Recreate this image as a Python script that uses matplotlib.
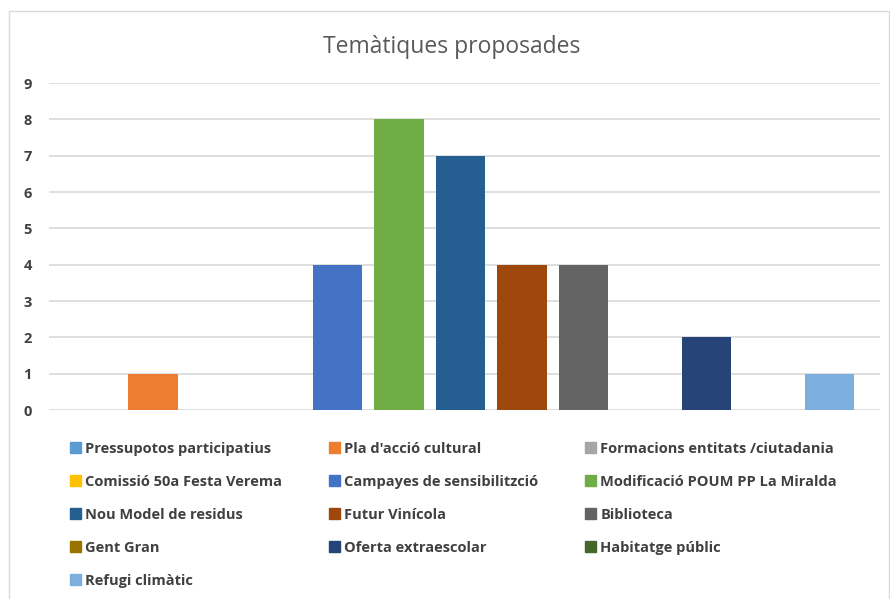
import matplotlib.pyplot as plt
from matplotlib.patches import Patch, Rectangle

plt.rcParams['font.family'] = ['Open Sans', 'DejaVu Sans']

series = ['Pressupotos participatius', "Pla d'acció cultural",
          'Formacions entitats /ciutadania', 'Comissió 50a Festa Verema',
          'Campayes de sensibilitzció', 'Modificació POUM PP La Miralda',
          'Nou Model de residus', 'Futur Vinícola', 'Biblioteca',
          'Gent Gran', 'Oferta extraescolar', 'Habitatge públic',
          'Refugi climàtic']
values = [0, 1, 0, 0, 4, 8, 7, 4, 4, 0, 2, 0, 1]
colors = ['#5B9BD5', '#ED7D31', '#A5A5A5', '#FFC000', '#4472C4', '#70AD47',
          '#255E91', '#9E480E', '#636363', '#997300', '#264478', '#43682B',
          '#7CAFDD']

fig = plt.figure(figsize=(8.9, 5.99), dpi=100)
ax = fig.add_axes([0.0546, 0.3155, 0.934, 0.5459])

for i, (v, c) in enumerate(zip(values, colors)):
    ax.bar(i, v, width=0.81, color=c, zorder=3)

ax.set_xlim(-0.7, 12.82)
ax.set_ylim(0, 9)
ax.set_yticks(range(10))
ax.set_xticks([])
ax.grid(axis='y', color='#D9D9D9', linewidth=1.2, zorder=0)
for s in ax.spines.values():
    s.set_visible(False)
ax.tick_params(axis='y', length=0, pad=12, labelsize=10.5, labelcolor='#404040')
for lab in ax.get_yticklabels():
    lab.set_fontweight('bold')

fig.text(0.507, 0.922, 'Temàtiques proposades', ha='center', va='center',
         fontsize=16.5, color='#595959')

# chart border
fig.add_artist(Rectangle((9 / 890, -0.01), 880 / 890, 1 - 11 / 599 + 0.01,
                         transform=fig.transFigure, fill=False,
                         edgecolor='#D9D9D9', linewidth=1))

# legend laid out row-major like Excel
order = [0, 3, 6, 9, 12, 1, 4, 7, 10, 2, 5, 8, 11]
handles = [Patch(color=colors[k], label=series[k]) for k in order]
fig.legend(handles=handles, ncol=3, loc='upper left',
           bbox_to_anchor=(0.072, 0.272), frameon=False,
           prop={'size': 10.5, 'weight': 'bold'}, labelcolor='#404040',
           handlelength=0.75, handleheight=0.75, handletextpad=0.3,
           columnspacing=3.2, labelspacing=1.3, borderaxespad=0)

fig.savefig('out.png', dpi=100)
